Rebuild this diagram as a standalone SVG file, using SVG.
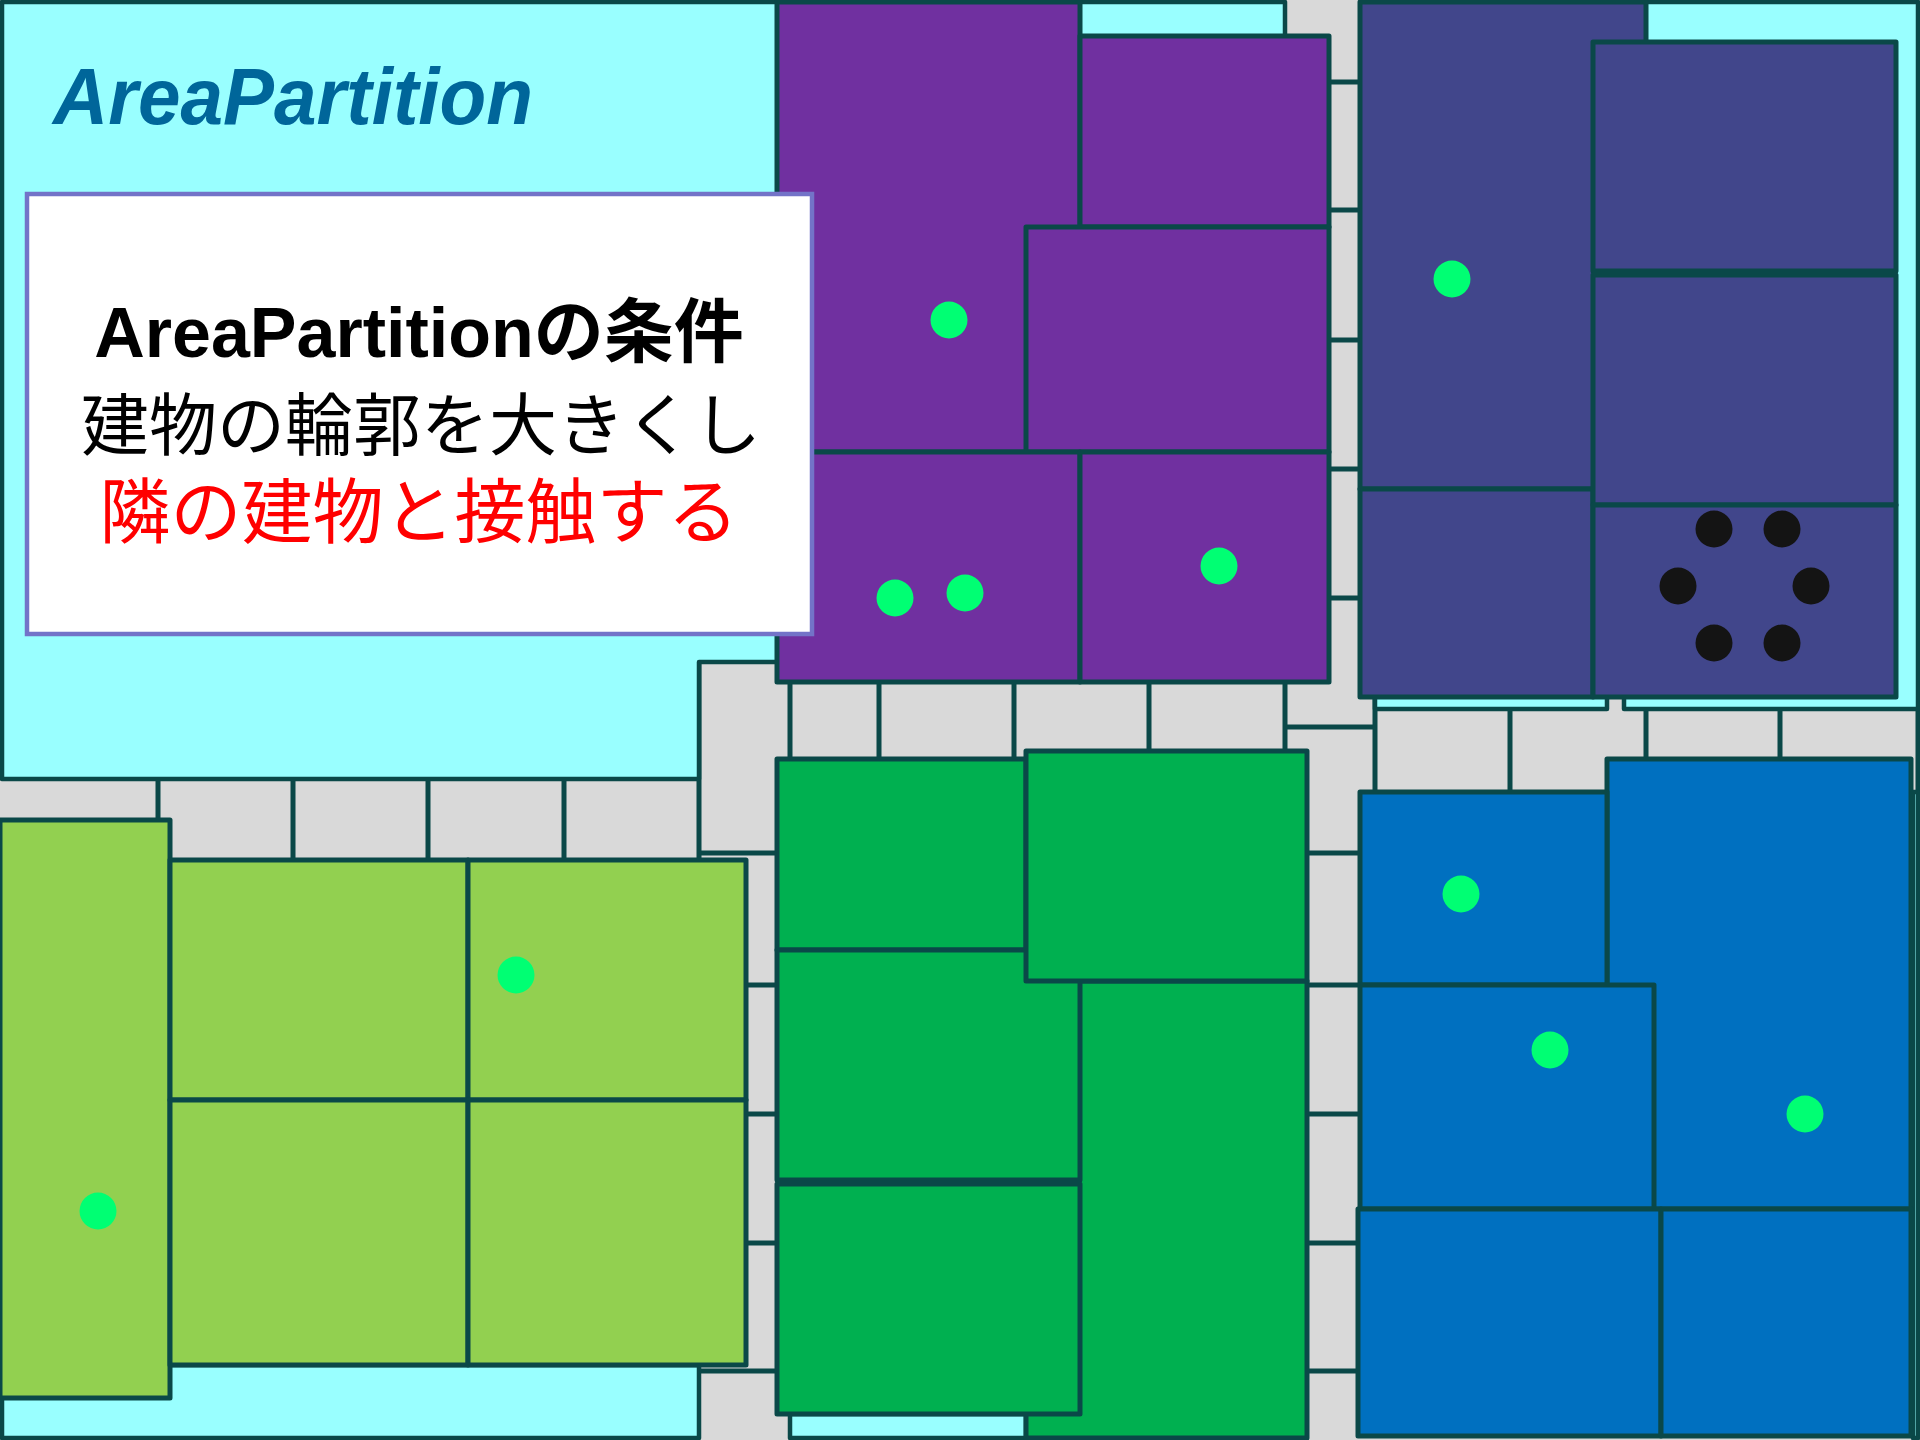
<svg xmlns="http://www.w3.org/2000/svg" width="1920" height="1440" viewBox="0 0 1920 1440">
<style>
.ln{stroke:#0a4848;stroke-width:5;fill:none;stroke-linecap:square}
.blk{fill:#99ffff;stroke:#0a4848;stroke-width:4.5;stroke-linejoin:round}
.b{stroke:#0a4848;stroke-width:5;stroke-linejoin:round}
.lg{fill:#92d050}.pu{fill:#7030a0}.nv{fill:#41468b}.gr{fill:#00b050}.bl{fill:#0070c0}
.dot{fill:#00ff73}.bk{fill:#141414}
.jp{font-family:"Liberation Sans","Noto Sans CJK JP",sans-serif}
</style>
<rect x="0" y="0" width="1920" height="1440" fill="#d9d9d9"/>
<g id="roads">
<path class="ln" d="M158,779V860M293,779V860M428,779V860M564,779V860M699,662V860M699,853H777M699,985H777M699,1114H777M699,1243H777M699,1371H777M790,682V759M879,682V759M1014,682V759M1149,682V759M1285,682V750M1285,727H1375M1375,697V793M1284,82H1360M1284,210H1360M1284,340H1360M1284,469H1360M1284,598H1360M1307,853H1360M1307,985H1360M1307,1114H1360M1307,1243H1360M1307,1371H1360M1510,709V793M1646,709V759M1780,709V759M1918,709V792"/>
</g>
<g id="blocks">
<path class="blk" d="M2,2H1285V662H699V779H2Z"/>
<rect class="blk" x="2" y="1365" width="697" height="73"/>
<rect class="blk" x="1375" y="2" width="232" height="707"/>
<rect class="blk" x="1624" y="2" width="294" height="707"/>
<rect class="blk" x="1913" y="792" width="5" height="646"/>
<rect class="blk" x="790" y="1414" width="236" height="24"/>
</g>
<g id="lightgreen">
<rect id="lg1" class="b lg" x="0" y="820" width="170" height="578"/>
<rect id="lg2" class="b lg" x="170" y="860" width="298" height="240"/>
<rect id="lg3" class="b lg" x="468" y="860" width="278" height="240"/>
<rect id="lg4" class="b lg" x="170" y="1100" width="298" height="265"/>
<rect id="lg5" class="b lg" x="468" y="1100" width="278" height="265"/>
</g>
<g id="purple">
<rect id="pu1" class="b pu" x="777" y="2" width="303" height="450"/>
<rect id="pu2" class="b pu" x="1080" y="36" width="249" height="191"/>
<rect id="pu3" class="b pu" x="1026" y="227" width="303" height="225"/>
<rect id="pu4" class="b pu" x="777" y="452" width="303" height="230"/>
<rect id="pu5" class="b pu" x="1080" y="452" width="249" height="230"/>
</g>
<g id="navy">
<rect id="nv1" class="b nv" x="1360" y="2" width="286" height="487"/>
<rect id="nv2" class="b nv" x="1360" y="489" width="233" height="208"/>
<rect id="nv3" class="b nv" x="1593" y="42" width="303" height="229"/>
<rect id="nv4" class="b nv" x="1593" y="275" width="303" height="230"/>
<rect id="nv5" class="b nv" x="1593" y="505" width="303" height="192"/>
</g>
<g id="green">
<rect id="gr1" class="b gr" x="777" y="759" width="249" height="191"/>
<rect id="gr5" class="b gr" x="1026" y="981" width="281" height="457"/>
<rect id="gr3" class="b gr" x="777" y="950" width="303" height="230"/>
<rect id="gr4" class="b gr" x="777" y="1184" width="303" height="230"/>
<rect id="gr2" class="b gr" x="1026" y="751" width="281" height="230"/>
</g>
<g id="blue">
<rect id="bl2" class="b bl" x="1607" y="759" width="304" height="450"/>
<rect id="bl1" class="b bl" x="1360" y="792" width="247" height="193"/>
<rect id="bl3" class="b bl" x="1360" y="985" width="294" height="224"/>
<rect id="bl4" class="b bl" x="1358" y="1209" width="303" height="227"/>
<rect id="bl5" class="b bl" x="1661" y="1209" width="250" height="227"/>
</g>
<g id="dots">
<circle class="dot" cx="949" cy="320" r="18.5"/>
<circle class="dot" cx="895" cy="598" r="18.5"/>
<circle class="dot" cx="965" cy="593" r="18.5"/>
<circle class="dot" cx="1219" cy="566" r="18.5"/>
<circle class="dot" cx="1452" cy="279" r="18.5"/>
<circle class="dot" cx="516" cy="975" r="18.5"/>
<circle class="dot" cx="98" cy="1211" r="18.5"/>
<circle class="dot" cx="1461" cy="894" r="18.5"/>
<circle class="dot" cx="1550" cy="1050" r="18.5"/>
<circle class="dot" cx="1805" cy="1114" r="18.5"/>
<circle class="bk" cx="1714" cy="529" r="18.5"/>
<circle class="bk" cx="1782" cy="529" r="18.5"/>
<circle class="bk" cx="1678" cy="586" r="18.5"/>
<circle class="bk" cx="1811" cy="586" r="18.5"/>
<circle class="bk" cx="1714" cy="643" r="18.5"/>
<circle class="bk" cx="1782" cy="643" r="18.5"/>
</g>
<g id="title">
<text class="jp" x="53" y="124" font-size="80" font-weight="bold" font-style="italic" fill="#00669a" textLength="480" lengthAdjust="spacingAndGlyphs">AreaPartition</text>
</g>
<g id="note">
<rect x="27" y="194" width="785" height="440" fill="#ffffff" stroke="#7373c8" stroke-width="4.5"/>
<text class="jp" x="419" y="357" font-size="70" font-weight="bold" text-anchor="middle" fill="#000000">AreaPartitionの条件</text>
<text class="jp" x="421" y="450" font-size="68" text-anchor="middle" fill="#000000">建物の輪郭を大きくし</text>
<text class="jp" x="419" y="537" font-size="71" text-anchor="middle" fill="#ff0000">隣の建物と接触する</text>
</g>
</svg>
